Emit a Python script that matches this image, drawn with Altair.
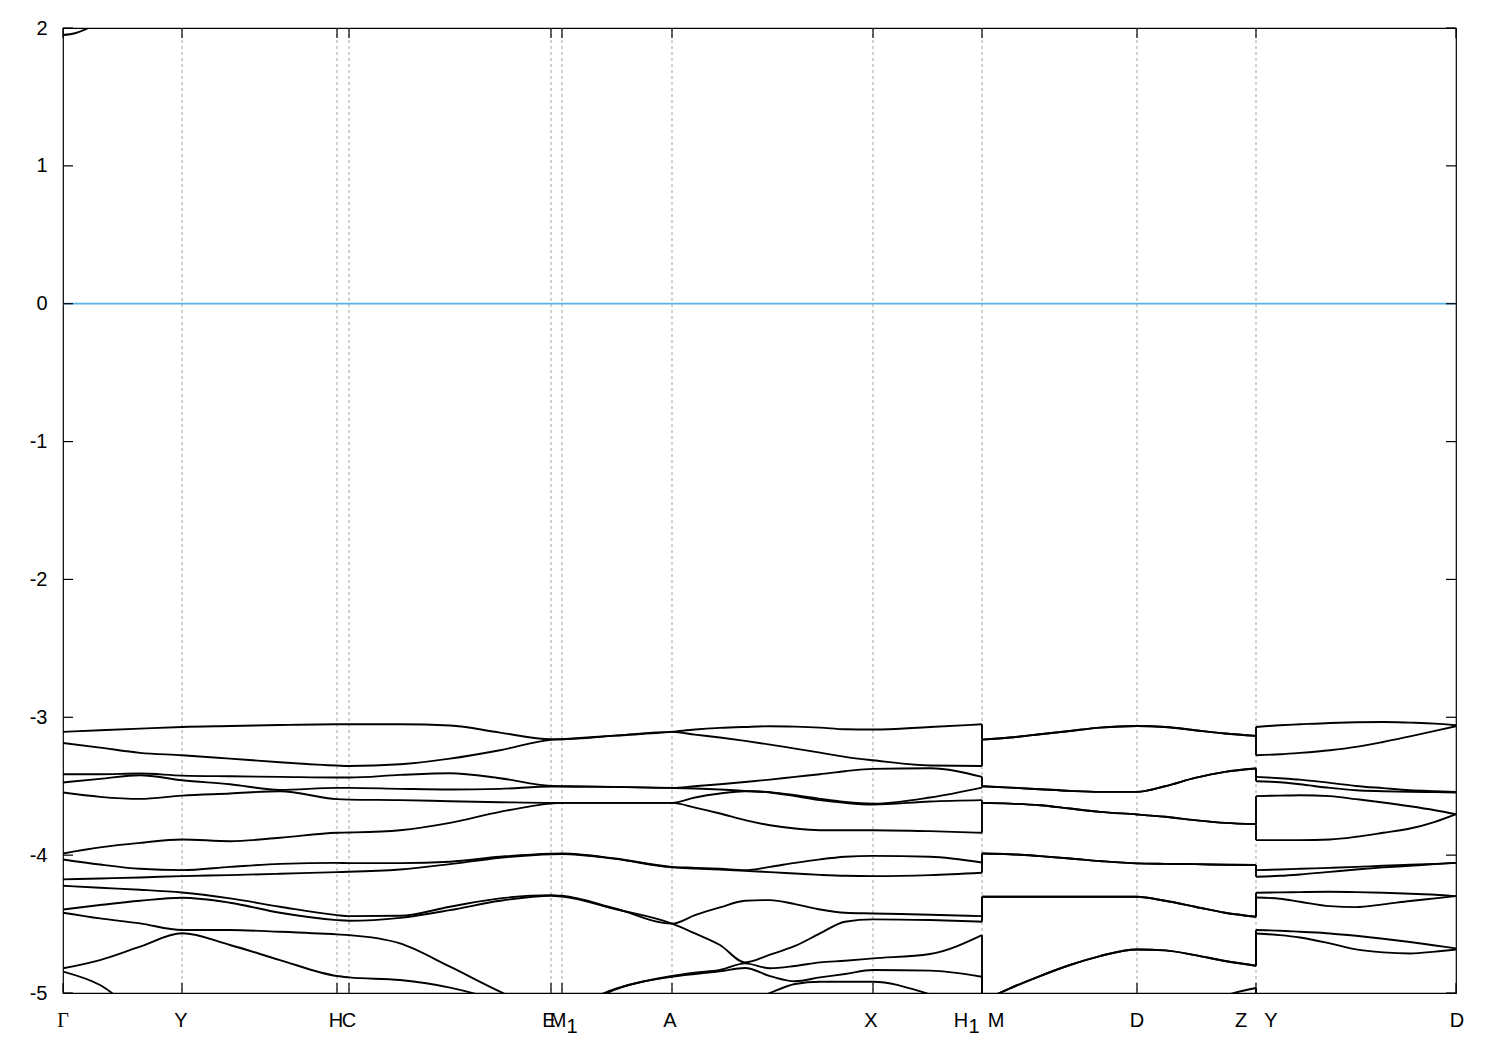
import altair as alt
import pandas as pd

# ---------------- data ----------------
# high-symmetry points along the k-path (path length, arbitrary units)
HS_K = [0.0, 0.119, 0.274, 0.286, 0.488, 0.499, 0.609, 0.810, 0.919, 1.074, 1.193, 1.393]

# k sample points of the three continuous path sections
K_S1 = [0.000, 0.037, 0.077, 0.119, 0.167, 0.217, 0.274, 0.286, 0.337, 0.387, 0.437, 0.488, 0.499,
        0.552, 0.609, 0.632, 0.657, 0.682, 0.707, 0.732, 0.757, 0.782, 0.810, 0.867, 0.919]
K_S2 = [0.919, 0.947, 0.977, 1.007, 1.037, 1.074, 1.102, 1.132, 1.162, 1.193]
K_S3 = [1.193, 1.217, 1.237, 1.267, 1.293, 1.320, 1.347, 1.372, 1.393]

# conduction band edge near Gamma (top left)
CB_K = [0.000, 0.012, 0.024, 0.040]
CB_E = [1.949, 1.962, 1.995, 2.060]

# valence bands (eV), values at K_S1 + K_S2 + K_S3
BAND_01 = [-3.106, -3.094, -3.082, -3.070, -3.063, -3.056, -3.051, -3.051, -3.051, -3.060, -3.111, -3.159, -3.159,
           -3.133, -3.106, -3.089, -3.077, -3.070, -3.065, -3.068, -3.075, -3.087, -3.089, -3.070, -3.051,
           -3.162, -3.147, -3.123, -3.099, -3.075, -3.063, -3.070, -3.094, -3.118, -3.135,
           -3.070, -3.058, -3.051, -3.041, -3.036, -3.034, -3.039, -3.046, -3.058]
BAND_02 = [-3.186, -3.220, -3.258, -3.275, -3.300, -3.326, -3.350, -3.353, -3.341, -3.300, -3.239, -3.164, -3.159,
           -3.133, -3.106, -3.126, -3.147, -3.171, -3.198, -3.227, -3.256, -3.287, -3.312, -3.350, -3.353,
           -3.162, -3.147, -3.123, -3.099, -3.075, -3.063, -3.070, -3.094, -3.118, -3.135,
           -3.275, -3.268, -3.258, -3.239, -3.215, -3.179, -3.138, -3.099, -3.065]
BAND_03 = [-3.413, -3.413, -3.408, -3.423, -3.428, -3.432, -3.437, -3.437, -3.418, -3.406, -3.442, -3.498, -3.500,
           -3.505, -3.512, -3.500, -3.486, -3.469, -3.452, -3.432, -3.413, -3.391, -3.374, -3.370, -3.432,
           -3.500, -3.510, -3.522, -3.534, -3.541, -3.541, -3.500, -3.440, -3.396, -3.372,
           -3.432, -3.442, -3.452, -3.476, -3.498, -3.514, -3.529, -3.536, -3.541]
BAND_04 = [-3.473, -3.447, -3.420, -3.457, -3.486, -3.527, -3.512, -3.512, -3.519, -3.524, -3.519, -3.502, -3.502,
           -3.505, -3.512, -3.517, -3.524, -3.534, -3.543, -3.565, -3.592, -3.614, -3.626, -3.582, -3.510,
           -3.500, -3.510, -3.522, -3.534, -3.541, -3.541, -3.500, -3.440, -3.396, -3.372,
           -3.464, -3.471, -3.486, -3.512, -3.529, -3.536, -3.541, -3.543, -3.546]
BAND_05 = [-3.546, -3.577, -3.592, -3.568, -3.553, -3.536, -3.594, -3.597, -3.601, -3.609, -3.616, -3.621, -3.621,
           -3.621, -3.621, -3.582, -3.553, -3.536, -3.546, -3.572, -3.601, -3.621, -3.633, -3.611, -3.601,
           -3.621, -3.626, -3.638, -3.662, -3.686, -3.705, -3.722, -3.746, -3.766, -3.775,
           -3.572, -3.568, -3.565, -3.572, -3.594, -3.618, -3.645, -3.674, -3.703]
BAND_06 = [-3.988, -3.944, -3.911, -3.886, -3.899, -3.874, -3.838, -3.836, -3.819, -3.766, -3.686, -3.626, -3.621,
           -3.621, -3.621, -3.655, -3.698, -3.746, -3.783, -3.807, -3.819, -3.819, -3.819, -3.826, -3.838,
           -3.621, -3.626, -3.638, -3.662, -3.686, -3.705, -3.722, -3.746, -3.766, -3.775,
           -3.891, -3.891, -3.891, -3.886, -3.867, -3.838, -3.807, -3.758, -3.703]
BAND_07 = [-4.031, -4.068, -4.099, -4.109, -4.085, -4.063, -4.056, -4.058, -4.058, -4.048, -4.012, -3.990, -3.988,
           -4.024, -4.085, -4.092, -4.099, -4.109, -4.085, -4.056, -4.031, -4.012, -4.005, -4.012, -4.053,
           -3.988, -3.993, -4.007, -4.024, -4.043, -4.060, -4.063, -4.065, -4.070, -4.072,
           -4.109, -4.104, -4.099, -4.092, -4.085, -4.077, -4.070, -4.063, -4.056]
BAND_08 = [-4.176, -4.169, -4.162, -4.152, -4.145, -4.135, -4.123, -4.121, -4.104, -4.065, -4.019, -3.993, -3.992,
           -4.027, -4.089, -4.097, -4.104, -4.114, -4.123, -4.133, -4.143, -4.150, -4.152, -4.145, -4.128,
           -3.988, -3.993, -4.007, -4.024, -4.043, -4.060, -4.063, -4.065, -4.070, -4.072,
           -4.157, -4.150, -4.140, -4.121, -4.104, -4.089, -4.077, -4.065, -4.056]
BAND_09 = [-4.222, -4.237, -4.251, -4.271, -4.314, -4.374, -4.435, -4.442, -4.440, -4.374, -4.314, -4.290, -4.295,
           -4.386, -4.497, -4.435, -4.379, -4.331, -4.326, -4.355, -4.394, -4.418, -4.423, -4.432, -4.442,
           -4.302, -4.302, -4.302, -4.302, -4.302, -4.302, -4.331, -4.374, -4.418, -4.447,
           -4.273, -4.270, -4.268, -4.266, -4.268, -4.273, -4.280, -4.287, -4.297]
BAND_10 = [-4.394, -4.362, -4.331, -4.309, -4.345, -4.418, -4.471, -4.476, -4.455, -4.399, -4.331, -4.295, -4.300,
           -4.391, -4.497, -4.568, -4.652, -4.778, -4.722, -4.659, -4.568, -4.483, -4.466, -4.471, -4.483,
           -4.302, -4.302, -4.302, -4.302, -4.302, -4.302, -4.331, -4.374, -4.418, -4.447,
           -4.307, -4.316, -4.338, -4.370, -4.377, -4.357, -4.333, -4.314, -4.297]
BAND_11 = [-4.418, -4.459, -4.495, -4.543, -4.543, -4.556, -4.575, -4.580, -4.640, -4.809, -4.990, -5.150, -5.130,
           -4.970, -4.877, -4.853, -4.833, -4.785, -4.821, -4.804, -4.778, -4.766, -4.749, -4.717, -4.580,
           -5.060, -4.966, -4.877, -4.797, -4.732, -4.684, -4.691, -4.725, -4.768, -4.802,
           -4.543, -4.548, -4.556, -4.568, -4.585, -4.606, -4.630, -4.655, -4.676]
BAND_12 = [-4.821, -4.761, -4.664, -4.567, -4.652, -4.761, -4.877, -4.887, -4.906, -4.961, -5.060, -5.200, -5.180,
           -4.975, -4.882, -4.862, -4.843, -4.819, -4.877, -4.915, -4.887, -4.862, -4.833, -4.838, -4.882,
           -5.060, -4.966, -4.877, -4.797, -4.732, -4.684, -4.691, -4.725, -4.768, -4.802,
           -4.568, -4.580, -4.597, -4.640, -4.684, -4.705, -4.713, -4.700, -4.684]
BAND_13 = [-4.845, -4.942, -5.150, -5.250, -5.300, -5.300, -5.300, -5.300, -5.300, -5.300, -5.300, -5.300, -5.300,
           -5.300, -5.200, -5.150, -5.120, -5.080, -5.000, -4.935, -4.918, -4.918, -4.918, -5.010, -5.150,
           -5.300, -5.300, -5.300, -5.300, -5.300, -5.250, -5.200, -5.120, -5.020, -4.964,
           -5.200, -5.200, -5.200, -5.200, -5.200, -5.200, -5.200, -5.200, -5.200]

Y_TICKS = [2, 1, 0, -1, -2, -3, -4, -5]
FERMI = [0.0]

# tick labels: (k of point, text, subscript flag)
LABELS = [
    (0.0, "Γ", False), (0.119, "Y", False), (0.274, "H", False), (0.286, "C", False),
    (0.488, "E", False), (0.499, "M", False), (0.499, "1", True), (0.609, "A", False),
    (0.810, "X", False), (0.919, "H", False), (0.919, "1", True), (0.919, "M", False),
    (1.074, "D", False), (1.193, "Z", False), (1.193, "Y", False), (1.393, "D", False),
]
# horizontal nudges (px) for each label piece (styling only)
LABEL_DX = [0, -1, -1, 0, -2, -4, 10, -2, -2, -21, -8, 14, 0, -15, 15, 1]

# ---------------- assemble ----------------
BANDS = [BAND_01, BAND_02, BAND_03, BAND_04, BAND_05, BAND_06, BAND_07,
         BAND_08, BAND_09, BAND_10, BAND_11, BAND_12, BAND_13]
K_ALL = K_S1 + K_S2 + K_S3
SEG = [1] * len(K_S1) + [2] * len(K_S2) + [3] * len(K_S3)
n1, n2 = len(K_S1), len(K_S2)

rows = []
for b, vals in enumerate(BANDS):
    assert len(vals) == len(K_ALL), (b, len(vals))
    for k, s, e in zip(K_ALL, SEG, vals):
        rows.append({"seg": f"b{b}-{s}", "k": k, "E": e})
for k, e in zip(CB_K, CB_E):
    rows.append({"seg": "cb", "k": k, "E": e})
band_df = pd.DataFrame(rows)

jumps = []
for b, vals in enumerate(BANDS):
    jumps.append({"k": K_S1[-1], "E": vals[n1 - 1], "E2": vals[n1]})
    jumps.append({"k": K_S2[-1], "E": vals[n1 + n2 - 1], "E2": vals[n1 + n2]})
jump_df = pd.DataFrame(jumps)

hs_df = pd.DataFrame({"k": HS_K})
inner_df = pd.DataFrame({"k": HS_K[1:-1]})
ytick_df = pd.DataFrame({"E": Y_TICKS})
fermi_df = pd.DataFrame({"E": FERMI})

W, H = 1393, 965
FONT = "Liberation Sans"
FS = 20

xs = alt.Scale(domain=[0, 1.393], nice=False, zero=False)
ys = alt.Scale(domain=[-5, 2], nice=False, zero=False)
y_axis = alt.Axis(values=Y_TICKS, labelExpr="'' + datum.value", ticks=False, tickSize=0,
                  domain=False, grid=False, labelFont=FONT, labelFontSize=FS,
                  labelColor="black", labelPadding=16, title=None, labelFlush=False)

X = alt.X("k:Q", scale=xs, axis=None)
Y = alt.Y("E:Q", scale=ys, axis=y_axis)

dashed = alt.Chart(inner_df).mark_rule(color="#a0a0a0", strokeWidth=1, strokeDash=[3, 3]).encode(x=X)
fermi = alt.Chart(fermi_df).mark_rule(color="#56b4e9", strokeWidth=1.8).encode(y=Y)
lines = alt.Chart(band_df).mark_line(color="black", strokeWidth=1.9, interpolate="monotone",
                                     clip=True).encode(x=X, y=Y, detail="seg:N")
jump_rules = alt.Chart(jump_df).mark_rule(color="black", strokeWidth=1.9, clip=True).encode(
    x=X, y=Y, y2="E2:Q")

ytick_l = alt.Chart(ytick_df).mark_rule(color="black", strokeWidth=1.2).encode(
    y=Y, x=alt.value(0), x2=alt.value(10))
ytick_r = alt.Chart(ytick_df).mark_rule(color="black", strokeWidth=1.2).encode(
    y=Y, x=alt.value(W - 10), x2=alt.value(W))
xtick_b = alt.Chart(hs_df).mark_rule(color="black", strokeWidth=1.2).encode(
    x=X, y=alt.value(H - 10), y2=alt.value(H))
xtick_t = alt.Chart(hs_df).mark_rule(color="black", strokeWidth=1.2).encode(
    x=X, y=alt.value(0), y2=alt.value(10))

label_layers = []
for (k, txt, sub), dx in zip(LABELS, LABEL_DX):
    font = "Liberation Serif" if txt == "Γ" else FONT
    label_layers.append(
        alt.Chart(pd.DataFrame({"k": [k], "t": [txt]})).mark_text(
            font=font, fontSize=FS, color="black", align="center", baseline="alphabetic",
            dx=dx, dy=6 if sub else 0
        ).encode(x=X, y=alt.value(H + 34), text="t:N")
    )

chart = alt.layer(
    dashed, fermi, lines, jump_rules, ytick_l, ytick_r, xtick_b, xtick_t, *label_layers
).properties(
    width=W, height=H,
    autosize=alt.AutoSizeParams(type="none"),
    padding={"left": 55, "top": 20, "right": 30, "bottom": 60},
    background="white",
).configure_view(stroke="black", strokeWidth=1.2)

chart.save("out.html", embed_options={"renderer": "svg", "actions": False})
